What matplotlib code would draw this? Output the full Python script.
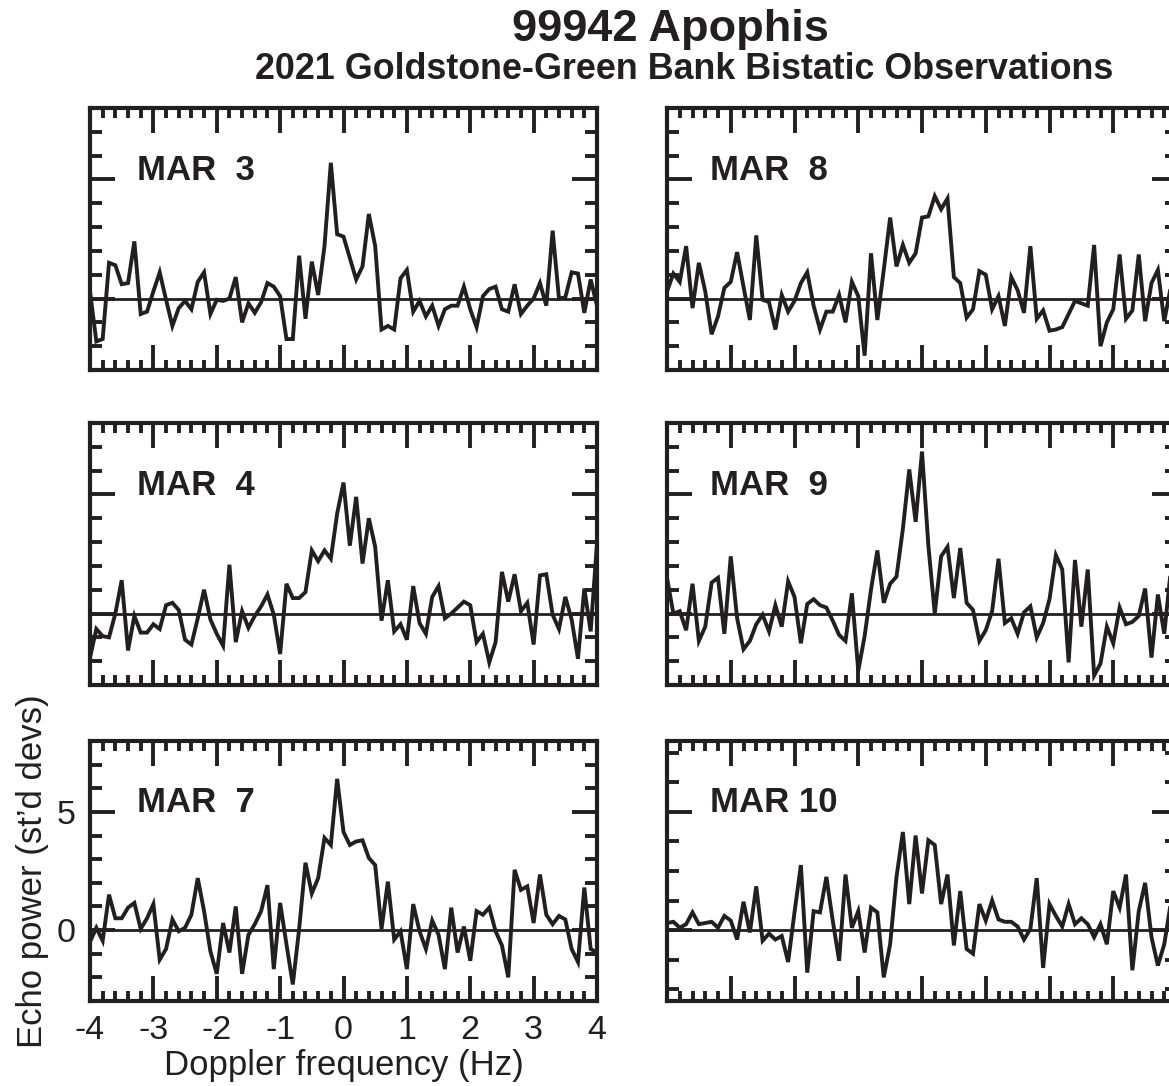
import matplotlib.pyplot as plt
import numpy as np
from matplotlib.ticker import MultipleLocator

plt.rcParams['font.family'] = ['Liberation Sans', 'DejaVu Sans']
plt.rcParams['axes.unicode_minus'] = False

# Doppler bins, 0.1 Hz apart
freq = np.linspace(-4, 4, 81)

mar3 = [0.3, -1.8, -1.7, 1.5, 1.4, 0.6, 0.65, 2.4, -0.65, -0.55,
        0.3, 1.1, -0.05, -1.15, -0.4, -0.1, -0.45, 0.7, 1.1, -0.65,
        -0.05, -0.1, 0.0, 0.9, -1.0, -0.2, -0.6, -0.15, 0.65, 0.5,
        0.1, -1.7, -1.7, 1.8, -0.85, 1.55, 0.15, 2.2, 5.7, 2.7,
        2.6, 1.7, 0.8, 1.35, 3.55, 2.2, -1.3, -1.15, -1.3, 0.85,
        1.2, -0.55, -0.1, -0.75, -0.3, -1.15, -0.45, -0.3, -0.3, 0.5,
        -0.45, -1.2, 0.1, 0.4, 0.5, -0.45, -0.55, 0.6, -0.65, -0.3,
        0.0, 0.65, -0.3, 2.85, 0.0, 0.05, 1.1, 1.05, -0.6, 0.8,
        -0.3]

mar4 = [-1.85, -0.65, -0.95, -1.0, 0.0, 1.4, -1.55, -0.1, -0.8, -0.8,
        -0.45, -0.65, 0.35, 0.45, 0.15, -1.1, -1.3, -0.2, 1.0, -0.25,
        -0.85, -1.35, 2.05, -1.2, 0.1, -0.6, -0.1, 0.3, 0.8, -0.05,
        -1.7, 1.25, 0.65, 0.65, 0.9, 2.65, 2.2, 2.65, 2.3, 4.2,
        5.5, 2.85, 4.9, 2.1, 4.0, 2.8, -0.3, 1.4, -0.75, -0.45,
        -1.1, 1.15, -0.4, -0.85, 0.7, 1.15, -0.2, 0.0, 0.25, 0.5,
        0.35, -1.2, -0.85, -2.05, -1.2, 1.75, 0.5, 1.65, 0.1, 0.45,
        -1.3, 1.6, 1.65, -0.05, -0.65, 0.7, -0.25, -1.9, 1.05, -0.75,
        2.95]

mar7 = [-0.5, 0.1, -0.45, 1.5, 0.5, 0.5, 0.95, 1.15, 0.05, 0.5,
        1.1, -1.25, -0.8, 0.45, -0.05, 0.1, 0.65, 2.2, 0.8, -0.9,
        -1.85, 0.3, -0.95, 1.0, -1.85, -0.2, 0.25, 0.8, 1.9, -1.65,
        1.15, -0.6, -2.3, 0.05, 2.85, 1.55, 2.2, 3.9, 3.6, 6.4,
        4.15, 3.6, 3.75, 3.8, 3.05, 2.75, 0.05, 2.05, -0.4, -0.05,
        -1.65, 1.1, -0.05, -0.8, 0.4, -0.2, -1.65, 0.95, -0.95, 0.15,
        -1.3, 0.8, 0.65, 0.95, -0.05, -0.65, -2.0, 2.55, 1.7, 1.85,
        0.3, 2.35, 0.65, 0.25, 0.6, 0.45, -0.8, -1.35, 1.8, -0.8,
        -0.95]

mar8 = [0.3, 1.05, 0.7, 2.2, -0.4, 1.5, 0.3, -1.5, -0.75, 0.45,
        0.7, 1.95, 0.5, -0.9, 2.65, -0.05, -0.15, -1.3, 0.15, -0.55,
        -0.1, 0.65, 1.1, -0.3, -1.3, -0.55, -0.55, 0.15, -1.0, 0.7,
        0.1, -2.4, 1.9, -0.9, 1.2, 3.4, 1.35, 2.25, 1.5, 1.9,
        3.4, 3.45, 4.3, 3.75, 4.2, 0.9, 0.65, -0.8, -0.45, 1.15,
        1.0, -0.45, 0.1, -1.15, 0.9, 0.35, -0.6, 2.2, -0.85, -0.5,
        -1.35, -1.3, -1.2, -0.65, -0.1, -0.2, -0.3, 2.25, -2.0, -1.0,
        -0.45, 1.85, -0.85, -0.5, 1.85, -0.95, 0.65, 1.2, -0.95, 0.45,
        0.2]

mar9 = [1.5, 0.0, 0.1, -0.7, 1.25, -1.15, -0.55, 1.3, 1.5, -0.85,
        2.4, -0.2, -1.5, -1.15, -0.45, -0.05, -0.75, 0.35, -0.55, 1.35,
        0.7, -1.25, 0.4, 0.6, 0.35, 0.25, -0.3, -0.9, -1.15, 0.85,
        -2.4, -0.95, 1.0, 2.65, 0.45, 1.25, 1.55, 3.55, 6.05, 3.85,
        6.8, 2.85, 0.0, 2.4, 2.8, 0.65, 2.75, 0.45, 0.15, -1.15,
        -0.7, 0.1, 2.3, -0.4, -0.2, -0.85, 0.05, 0.3, -1.0, -0.4,
        0.6, 2.45, 1.85, -2.05, 2.25, -0.55, 1.85, -2.6, -2.1, -0.55,
        -1.25, 0.25, -0.45, -0.35, -0.1, 1.05, -1.85, 0.8, -0.85, 1.75,
        1.0]

mar10 = [0.3, 0.35, 0.1, 0.25, 0.75, 0.25, 0.3, 0.35, 0.1, 0.6,
         0.4, -0.4, 1.2, -0.1, 1.85, -0.45, -0.15, -0.4, -0.25, -1.35,
         0.75, 2.75, -1.8, 0.8, 0.75, 2.25, 0.4, -1.3, 2.35, 0.1,
         0.8, -0.95, 0.95, 0.75, -2.0, -0.6, 2.25, 4.15, 1.1, 4.0,
         1.55, 3.8, 3.6, 1.1, 2.35, -0.65, 1.65, -0.8, -1.0, 1.1,
         0.4, 1.25, 0.45, 0.35, 0.35, 0.15, -0.4, 0.05, 2.2, -1.6,
         1.1, 0.6, 0.15, 1.1, 0.25, 0.5, 0.25, -0.3, 0.25, -0.6,
         1.65, 0.95, 2.35, -1.7, 0.8, 2.0, -0.3, -1.5, -0.6, 1.1,
         0.5]

xticks = [-4, -3, -2, -1, 0, 1, 2, 3, 4]

W, H = 1169, 1086
ink = '#231f20'

fig = plt.figure(figsize=(W / 100, H / 100), dpi=100)


def box(left, top, right, bottom):
    # pixel box -> figure fraction
    return [left / W, 1 - bottom / H, (right - left) / W, (bottom - top) / H]


rows = [(108, 370), (423, 685), (741, 1001)]
cols = [(90, 597), (667, 1177)]   # right column runs off the page
label_x = [0.093, 0.084]

panels = [
    ('MAR  3', mar3, 0, 0, 1.0),
    ('MAR  4', mar4, 1, 0, 1.0),
    ('MAR  7', mar7, 2, 0, 1.0),
    ('MAR  8', mar8, 0, 1, 1.0),
    ('MAR  9', mar9, 1, 1, 1.0),
    ('MAR 10', mar10, 2, 1, 1.25),
]

for name, vals, r, c, ystep in panels:
    ax = fig.add_axes(box(cols[c][0], rows[r][0], cols[c][1], rows[r][1]))
    ax.axhline(0, color=ink, lw=2.0)
    ax.plot(freq, vals, color=ink, lw=2.8, solid_joinstyle='miter')
    ax.set_xlim(-4, 4)
    ax.set_ylim(-3, 8)
    ax.xaxis.set_major_locator(MultipleLocator(1))
    ax.xaxis.set_minor_locator(MultipleLocator(0.2))
    ax.yaxis.set_major_locator(MultipleLocator(5))
    ax.yaxis.set_minor_locator(MultipleLocator(ystep))
    ax.tick_params(which='both', direction='in', top=True, right=True,
                   width=2.8, color=ink, labelcolor=ink, labelsize=24.5,
                   labelbottom=False, labelleft=False)
    ax.tick_params(axis='x', which='major', length=18, pad=10)
    ax.tick_params(axis='x', which='minor', length=7.5)
    ax.tick_params(axis='y', which='major', length=18, pad=10)
    ax.tick_params(axis='y', which='minor', length=8.5)
    for s in ax.spines.values():
        s.set_linewidth(3.0)
        s.set_color(ink)
    ax.text(label_x[c], 0.762, name, transform=ax.transAxes, ha='left',
            va='center', fontsize=25, fontweight='bold', color=ink)
    if r == 2 and c == 0:
        ax.tick_params(labelbottom=True, labelleft=True)
        ax.set_xticks(xticks)
        ax.set_xticklabels([str(t) for t in xticks])
        ax.set_yticks([0, 5])
        ax.set_xlabel('Doppler frequency (Hz)', fontsize=25, color=ink,
                      labelpad=2)
        ax.set_ylabel("Echo power (st\u2019d devs)", fontsize=25,
                      color=ink, labelpad=6)

fig.text(670 / W, 1 - 30 / H, '99942 Apophis', ha='center', va='center',
         fontsize=32.5, fontweight='bold', color=ink)
fig.text(684 / W, 1 - 70 / H, '2021 Goldstone-Green Bank Bistatic Observations',
         ha='center', va='center', fontsize=25.8, fontweight='bold', color=ink)

fig.savefig('out.png', dpi=100)
